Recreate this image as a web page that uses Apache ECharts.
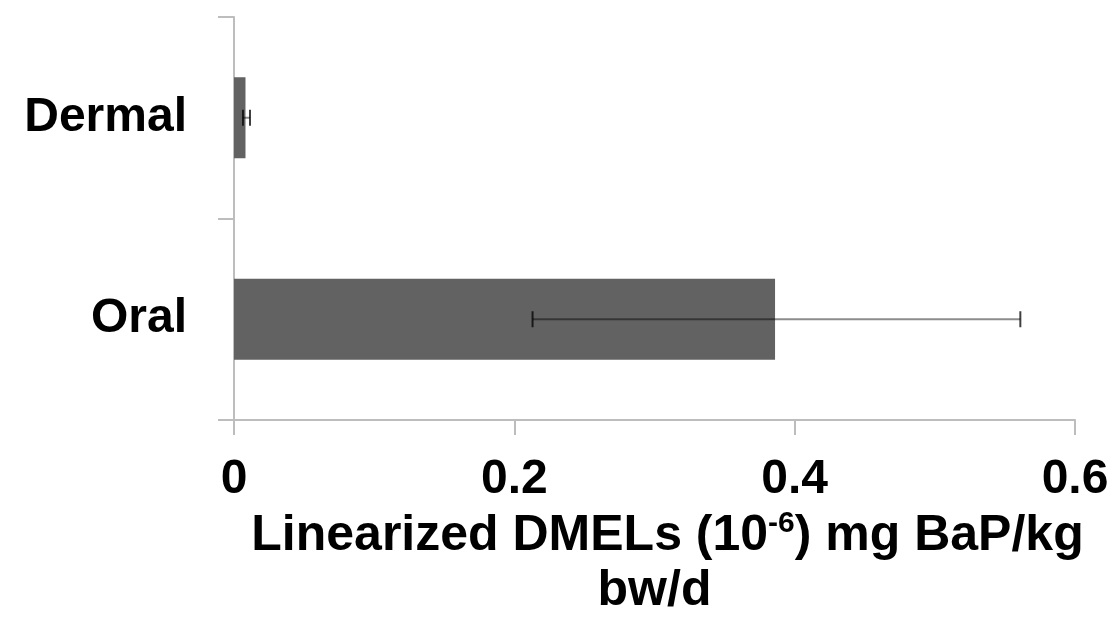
<!DOCTYPE html>
<html><head><meta charset="utf-8">
<script src="https://cdn.jsdelivr.net/npm/echarts@6/dist/echarts.min.js"></script>
<style>html,body{margin:0;padding:0;background:#fff}#c{width:1116px;height:628px}</style>
</head><body><div id="c"></div>
<script>
const categories = ['Dermal', 'Oral'];
const values = [0.0082, 0.386];
const errLow = [0.0064, 0.213];
const errHigh = [0.0114, 0.561];
const xTicks = [0, 0.2, 0.4, 0.6];

const chart = echarts.init(document.getElementById('c'));
const F = '"Liberation Sans", Arial, sans-serif';
chart.setOption({
  animation: false,
  grid: { left: 234, right: 41, top: 17, bottom: 208, containLabel: false },
  xAxis: {
    type: 'value', min: xTicks[0], max: xTicks[xTicks.length - 1], interval: 0.2,
    axisLine: { show: true, lineStyle: { color: '#bdbdbd', width: 2 } },
    axisTick: { show: true, length: 15, lineStyle: { color: '#bdbdbd', width: 2 } },
    splitLine: { show: false },
    axisLabel: { color: '#000', fontFamily: F, fontWeight: 'bold', fontSize: 48, margin: 36,
      formatter: v => (v === 0 ? '0' : String(Math.round(v * 10) / 10)) },
    name: '{p|}{a|Linearized DMELs (10}{s|-6}{a|) mg BaP/kg}\n{a|bw/d}',
    nameLocation: 'middle', nameGap: 71,
    nameTextStyle: {
      align: 'center',
      rich: {
        p: { width: 26, lineHeight: 55 },
        a: { fontFamily: F, fontWeight: 'bold', fontSize: 50, color: '#000', lineHeight: 55 },
        s: { fontFamily: F, fontWeight: 'bold', fontSize: 30, color: '#000', verticalAlign: 'top', lineHeight: 55, padding: [0, 0, 22, 0] }
      }
    }
  },
  yAxis: {
    type: 'category', data: categories, inverse: true,
    axisLine: { show: true, lineStyle: { color: '#bdbdbd', width: 2 } },
    axisTick: { show: true, length: 16, alignWithLabel: false, lineStyle: { color: '#bdbdbd', width: 2 } },
    axisLabel: { color: '#000', fontFamily: F, fontWeight: 'bold', fontSize: 48, margin: 47 }
  },
  series: [
    { type: 'bar', data: values, barWidth: 81, itemStyle: { color: '#626262' }, z: 2 },
    {
      type: 'custom', z: 3,
      data: categories.map((c, i) => [i, errLow[i], errHigh[i]]),
      encode: { y: 0, x: [1, 2] },
      renderItem: function (params, api) {
        const i = api.value(0);
        const p1 = api.coord([api.value(1), i]);
        const p2 = api.coord([api.value(2), i]);
        const h = 8;
        const st = { stroke: 'rgba(0,0,0,0.45)', lineWidth: 2 };
        const cs = { stroke: 'rgba(0,0,0,0.75)', lineWidth: 2 };
        return { type: 'group', children: [
          { type: 'line', shape: { x1: p1[0], y1: p1[1], x2: p2[0], y2: p2[1] }, style: st },
          { type: 'line', shape: { x1: p1[0], y1: p1[1] - h, x2: p1[0], y2: p1[1] + h }, style: cs },
          { type: 'line', shape: { x1: p2[0], y1: p2[1] - h, x2: p2[0], y2: p2[1] + h }, style: cs }
        ]};
      }
    }
  ]
});
</script></body></html>
